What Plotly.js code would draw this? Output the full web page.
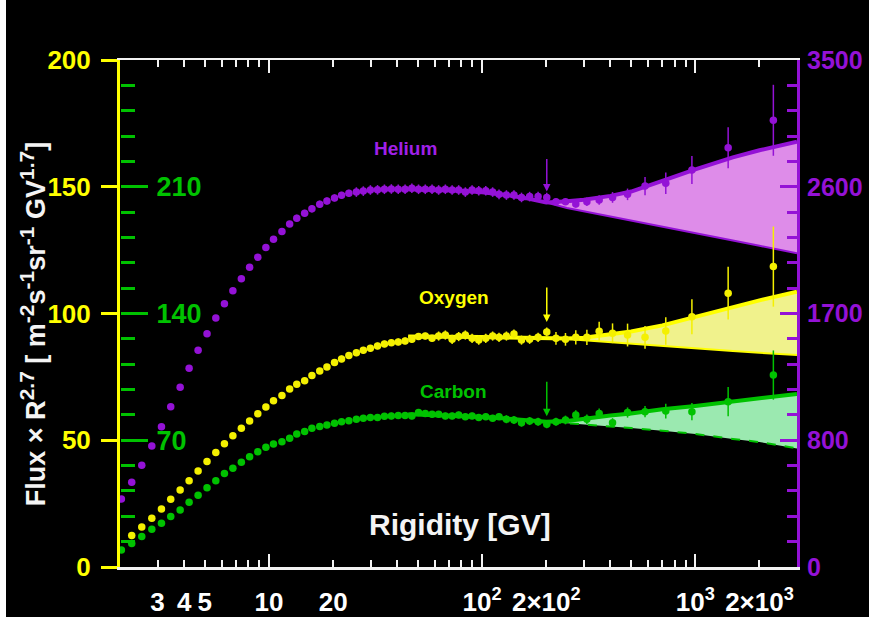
<!DOCTYPE html>
<html><head><meta charset="utf-8">
<script src="https://cdn.plot.ly/plotly-3.0.1.min.js"></script>
<style>
html,body{margin:0;padding:0;background:#ffffff;overflow:hidden;}
#chart{position:absolute;left:6px;top:0;width:863px;height:617px;}
</style></head><body><div id="chart"></div>
<script>
// Rigidity bin positions [GV]
const rigidity = [2.03, 2.27, 2.53, 2.82, 3.13, 3.46, 3.83, 4.22, 4.65, 5.12, 5.63, 6.18, 6.77, 7.42, 8.11, 8.86, 9.67, 10.5, 11.5, 12.5, 13.5, 14.7, 15.9, 17.3, 18.7, 20.3, 21.9, 23.7, 25.7, 27.7, 29.9, 32.3, 34.8, 37.5, 40.4, 43.5, 46.8, 50.3, 54.1, 58.2, 62.5, 67.2, 72.3, 77.6, 83.4, 89.7, 96.4, 104, 112, 120, 130, 141, 153, 167, 183, 201, 222, 246, 275, 310, 354, 409, 481, 581, 727, 964, 1426, 2324];

// Helium (right-hand scale)
const heliumFlux = [382, 501, 622, 759, 895, 1038, 1176, 1311, 1439, 1556, 1668, 1770, 1862, 1947, 2028, 2100, 2168, 2227, 2283, 2335, 2377, 2411, 2443, 2476, 2499, 2521, 2539, 2553, 2562, 2569, 2577, 2578, 2582, 2584, 2582, 2582, 2589, 2582, 2582, 2582, 2577, 2582, 2577, 2577, 2562, 2577, 2571, 2571, 2562, 2546, 2541, 2541, 2524, 2530, 2530, 2524, 2494, 2494, 2478, 2494, 2506, 2524, 2546, 2605, 2625, 2719, 2877, 3072];
const heliumErr = [6, 6, 6, 6, 6, 6, 6, 6, 6, 6, 6, 6, 15, 15, 15, 15, 15, 15, 15, 15, 25, 25, 25, 25, 25, 25, 25, 25, 34, 34, 34, 34, 34, 34, 34, 34, 34, 34, 34, 34, 34, 34, 34, 34, 34, 34, 34, 34, 34, 34, 34, 34, 34, 34, 34, 34, 22, 22, 25, 30, 34, 38, 41, 65, 76, 99, 146, 252];

// Oxygen (left yellow scale)
const oxygenFlux = [null, 12.4, 15.8, 19.2, 22.9, 26.7, 30.4, 34.0, 37.9, 41.6, 45.2, 48.6, 51.8, 54.7, 57.6, 60.5, 63.1, 65.6, 67.7, 70.2, 72.1, 73.5, 75.5, 77.3, 78.9, 80.7, 82.1, 83.4, 84.5, 85.5, 86.3, 87.2, 88.0, 88.5, 88.8, 89.2, 89.8, 90.9, 91.1, 90.2, 91.1, 91.5, 89.8, 90.9, 91.5, 90.2, 89.5, 90.2, 91.1, 90.6, 91.1, 91.9, 89.5, 89.8, 90.6, 92.7, 90.2, 89.8, 90.6, 90.6, 93.0, 92.2, 91.5, 90.6, 93.1, 98.7, 108.0, 118.5];
const oxygenErr = [0, 0.4, 0.4, 0.4, 0.4, 0.4, 0.4, 0.4, 0.4, 0.4, 0.4, 0.4, 0.4, 0.4, 0.4, 0.8, 0.8, 0.8, 0.8, 0.8, 0.8, 0.8, 0.8, 0.8, 0.8, 1.3, 1.3, 1.3, 1.3, 1.3, 1.3, 1.3, 1.3, 1.3, 1.3, 1.3, 1.3, 1.3, 1.3, 1.3, 1.8, 1.8, 1.8, 1.8, 1.8, 1.8, 1.8, 1.8, 1.8, 1.8, 1.8, 1.8, 1.8, 1.8, 1.8, 1.8, 2.5, 2.5, 2.8, 3.0, 3.7, 3.9, 4.5, 4.5, 5.4, 6.9, 10.4, 15.8];

// Carbon (green scale)
const carbonFlux = [9.4, 13.0, 16.8, 20.9, 24.1, 27.9, 31.5, 35.7, 39.6, 43.7, 47.6, 51.7, 54.5, 57.8, 60.9, 63.6, 66.1, 67.9, 69.2, 71.1, 73.5, 74.8, 76.6, 77.6, 78.4, 79.4, 80.2, 80.8, 81.6, 82.2, 82.5, 82.6, 83.2, 83.4, 83.7, 83.7, 83.4, 85.3, 84.8, 84.3, 84.3, 83.4, 83.4, 84.0, 83.0, 83.4, 82.5, 83.0, 82.2, 83.0, 81.6, 81.2, 79.7, 80.6, 80.2, 78.8, 80.2, 81.2, 84.0, 81.6, 84.8, 79.7, 85.3, 85.8, 86.1, 85.8, 91.3, 106.0];
const carbonErr = [0.5, 0.5, 0.5, 0.5, 0.5, 0.5, 0.5, 0.5, 0.5, 0.5, 0.5, 0.5, 0.5, 0.5, 0.5, 1.2, 1.2, 1.2, 1.2, 1.2, 1.2, 1.2, 1.2, 1.2, 1.2, 1.2, 1.2, 1.2, 1.2, 1.2, 1.8, 1.8, 1.8, 1.8, 1.8, 1.8, 1.8, 1.8, 1.8, 1.8, 1.8, 1.8, 1.8, 1.8, 1.8, 1.8, 1.8, 1.8, 1.8, 1.8, 2.2, 2.2, 2.2, 2.2, 2.2, 2.2, 2.2, 2.4, 2.6, 2.6, 2.8, 2.5, 2.8, 3.1, 4.1, 4.8, 8.1, 13.6];

// Fit curves (broken vs single power law)
const fitRigidity = [45, 60, 80, 100, 130, 160, 200, 250, 300, 400, 500, 700, 1000, 1500, 2000, 3000];
const heliumUpper = [2582, 2578, 2571, 2560, 2542, 2519, 2488, 2497, 2508, 2535, 2566, 2641, 2724, 2809, 2859, 2920];
const heliumLower = [2582, 2578, 2571, 2560, 2542, 2519, 2488, 2449, 2425, 2389, 2361, 2316, 2271, 2218, 2181, 2127];
const oxygenUpper = [90.9, 90.9, 90.8, 90.7, 90.5, 90.4, 90.2, 90.1, 90.4, 91.8, 92.9, 95.3, 98.8, 102.5, 105.2, 108.6];
const oxygenLower = [90.9, 90.9, 90.8, 90.7, 90.5, 90.4, 90.2, 89.9, 89.4, 88.6, 88.0, 87.1, 86.2, 85.2, 84.5, 83.6];
const carbonUpper = [84.4, 84.0, 83.4, 82.9, 82.0, 81.2, 80.2, 80.6, 81.9, 83.7, 84.8, 87.1, 88.9, 91.3, 93.1, 95.6];
const carbonLower = [84.4, 84.0, 83.4, 82.9, 82.0, 81.2, 80.2, 79.5, 79.0, 77.8, 76.7, 75.3, 73.5, 70.7, 69.0, 65.5];

// Tick labels
const xTickVals = [3, 4, 5, 10, 20, 100, 200, 1000, 2000];
const xTickText = ['3', '4', '5', '10', '20', '10<sup>2</sup>', '2×10<sup>2</sup>', '10<sup>3</sup>', '2×10<sup>3</sup>'];
const xMajorTicks = [10, 100, 1000];
const xMinorTicks = [3, 4, 5, 6, 7, 8, 9, 20, 30, 40, 50, 60, 70, 80, 90, 200, 300, 400, 500, 600, 700, 800, 900, 2000];
const leftTickVals = [0, 50, 100, 150, 200];
const carbonTickVals = [70, 140, 210];
const heliumTickVals = [-100, 800, 1700, 2600, 3500];
const heliumTickText = ['0', '800', '1700', '2600', '3500'];
const breakBin = 55; // index of the ~200 GV bin marked by arrows

const PURPLE = '#9412d6', PURPLE_FILL = '#de8ce9';
const YELLOW = '#ffff00', YELLOW_PT = '#f4f000', YELLOW_FILL = '#f0f28c';
const GREEN = '#00c200', GREEN_FILL = '#9be9b0';
const FONT = 'Liberation Sans, Arial, Helvetica, sans-serif';

const carbonMinor = [];
for (let v = 14; v < 280; v += 14) carbonMinor.push(v);
const heliumMinor = [];
for (let v = -100; v <= 3500; v += 180) heliumMinor.push(v);

function band(R, lo, hi, xaxis, yaxis, color, fill, loDash, hiW) {
  return [
    {x: R, y: lo, xaxis: xaxis, yaxis: yaxis, mode: 'lines', line: {color: color, width: 2, dash: loDash || 'solid'}, hoverinfo: 'skip'},
    {x: R, y: hi, xaxis: xaxis, yaxis: yaxis, mode: 'lines', fill: 'tonexty', fillcolor: fill, line: {color: color, width: hiW}, hoverinfo: 'skip'}
  ];
}
function pts(y, err, xaxis, yaxis, color) {
  return {x: rigidity, y: y, xaxis: xaxis, yaxis: yaxis, mode: 'markers', marker: {color: color, size: 7.5},
    error_y: {type: 'data', array: err, visible: true, color: color, thickness: 1.5, width: 0}};
}

const traces = [].concat(
  band(fitRigidity, heliumLower, heliumUpper, 'x', 'y', PURPLE, PURPLE_FILL, 'solid', 4),
  [pts(heliumFlux, heliumErr, 'x', 'y', PURPLE)],
  band(fitRigidity, oxygenLower, oxygenUpper, 'x', 'y2', YELLOW, YELLOW_FILL, 'solid', 4),
  [pts(oxygenFlux, oxygenErr, 'x', 'y2', YELLOW_PT)],
  band(fitRigidity, carbonLower, carbonUpper, 'x2', 'y3', GREEN, GREEN_FILL, 'dash', 4),
  [pts(carbonFlux, carbonErr, 'x2', 'y3', GREEN)]
);

const xRange = [Math.log10(2), Math.log10(3000)];
const supSpan = s => '<sup><span style="font-size:21px">' + s + '</span></sup>';
const layout = {
  width: 863, height: 617,
  paper_bgcolor: '#000000', plot_bgcolor: '#000000',
  margin: {l: 114, r: 72, t: 60, b: 50},
  showlegend: false,
  font: {family: FONT, color: '#ffffff'},
  xaxis: {type: 'log', range: xRange, tickmode: 'array', tickvals: xMajorTicks, ticks: 'inside', ticklen: 13,
    tickwidth: 2, tickcolor: '#f2f2f2', showticklabels: false, showline: true, linecolor: '#f2f2f2', linewidth: 2.5,
    mirror: 'ticks', showgrid: false, zeroline: false,
    minor: {tickmode: 'array', tickvals: xMinorTicks, ticks: 'inside', ticklen: 7, tickwidth: 2, tickcolor: '#f2f2f2', showgrid: false}},
  xaxis2: {type: 'log', overlaying: 'x', anchor: 'y', side: 'bottom', range: xRange, tickmode: 'array',
    tickvals: xTickVals, ticktext: xTickText, ticks: '', showline: false, showgrid: false, zeroline: false,
    tickangle: 0, tickfont: {family: FONT, size: 26, color: '#ffffff', weight: 700}, ticklabelstandoff: 17},
  yaxis: {side: 'right', range: [-100, 3500], tickmode: 'array', tickvals: heliumTickVals, ticktext: heliumTickText,
    ticks: 'inside', ticklen: 17, tickwidth: 3, tickcolor: PURPLE, showline: true, linecolor: PURPLE, linewidth: 3,
    showgrid: false, zeroline: false, ticklabelstandoff: 2,
    tickfont: {family: FONT, size: 25, color: PURPLE, weight: 700},
    minor: {tickmode: 'array', tickvals: heliumMinor, ticks: 'inside', ticklen: 10, tickwidth: 3, tickcolor: PURPLE, showgrid: false}},
  yaxis2: {overlaying: 'y', side: 'left', anchor: 'x', range: [0, 200], tickmode: 'array', tickvals: leftTickVals,
    ticks: 'outside', ticklen: 16, tickwidth: 3, tickcolor: YELLOW, showline: true, linecolor: YELLOW, linewidth: 3,
    showgrid: false, zeroline: false, ticklabelstandoff: 5,
    tickfont: {family: FONT, size: 26, color: YELLOW, weight: 700}},
  yaxis3: {overlaying: 'y', side: 'right', anchor: 'free', position: 0, range: [0, 280], tickmode: 'array', tickvals: carbonTickVals,
    ticks: 'outside', ticklen: 27, tickwidth: 3, tickcolor: GREEN, showline: false, showgrid: false, zeroline: false,
    ticklabelstandoff: 3, tickfont: {family: FONT, size: 27, color: GREEN, weight: 700},
    minor: {tickmode: 'array', tickvals: carbonMinor, ticks: 'outside', ticklen: 14, tickwidth: 3, tickcolor: GREEN, showgrid: false}},
  annotations: [
    {text: 'Helium', xref: 'paper', yref: 'paper', x: 0.421, y: 0.826, xanchor: 'center', yanchor: 'middle', showarrow: false,
      font: {family: FONT, size: 19, color: '#a020e8', weight: 700}},
    {text: 'Oxygen', xref: 'paper', yref: 'paper', x: 0.493, y: 0.531, xanchor: 'center', yanchor: 'middle', showarrow: false,
      font: {family: FONT, size: 19, color: YELLOW, weight: 700}},
    {text: 'Carbon', xref: 'paper', yref: 'paper', x: 0.492, y: 0.346, xanchor: 'center', yanchor: 'middle', showarrow: false,
      font: {family: FONT, size: 19, color: GREEN, weight: 700}},
    {text: 'Rigidity [GV]', xref: 'paper', yref: 'paper', x: 0.502, y: 0.083, xanchor: 'center', yanchor: 'middle', showarrow: false,
      font: {family: FONT, size: 30, color: '#f4f4f4', weight: 700}},
    {text: 'Flux × R' + supSpan('2.7') + ' [ m' + supSpan('-2') + 's' + supSpan('-1') + 'sr' + supSpan('-1') + ' GV' + supSpan('1.7') + ']',
      xref: 'paper', yref: 'paper', x: -0.1285, y: 0.479, xanchor: 'center', yanchor: 'middle', textangle: -90, showarrow: false,
      font: {family: FONT, size: 27, color: '#f4f4f4', weight: 700}},
    {text: '', x: Math.log10(rigidity[breakBin]), y: heliumFlux[breakBin], xref: 'x', yref: 'y', showarrow: true,
      ax: 0, ay: -40, arrowhead: 2, arrowsize: 1, arrowwidth: 1.5, arrowcolor: PURPLE, standoff: 6},
    {text: '', x: Math.log10(rigidity[breakBin]), y: oxygenFlux[breakBin], xref: 'x', yref: 'y2', showarrow: true,
      ax: 0, ay: -46, arrowhead: 2, arrowsize: 1, arrowwidth: 1.5, arrowcolor: YELLOW, standoff: 10},
    {text: '', x: Math.log10(rigidity[breakBin]), y: carbonFlux[breakBin], xref: 'x', yref: 'y3', showarrow: true,
      ax: 0, ay: -44, arrowhead: 2, arrowsize: 1, arrowwidth: 1.5, arrowcolor: GREEN, standoff: 8}
  ]
};

Plotly.newPlot('chart', traces, layout, {displayModeBar: false, staticPlot: true});
</script>
</body></html>
